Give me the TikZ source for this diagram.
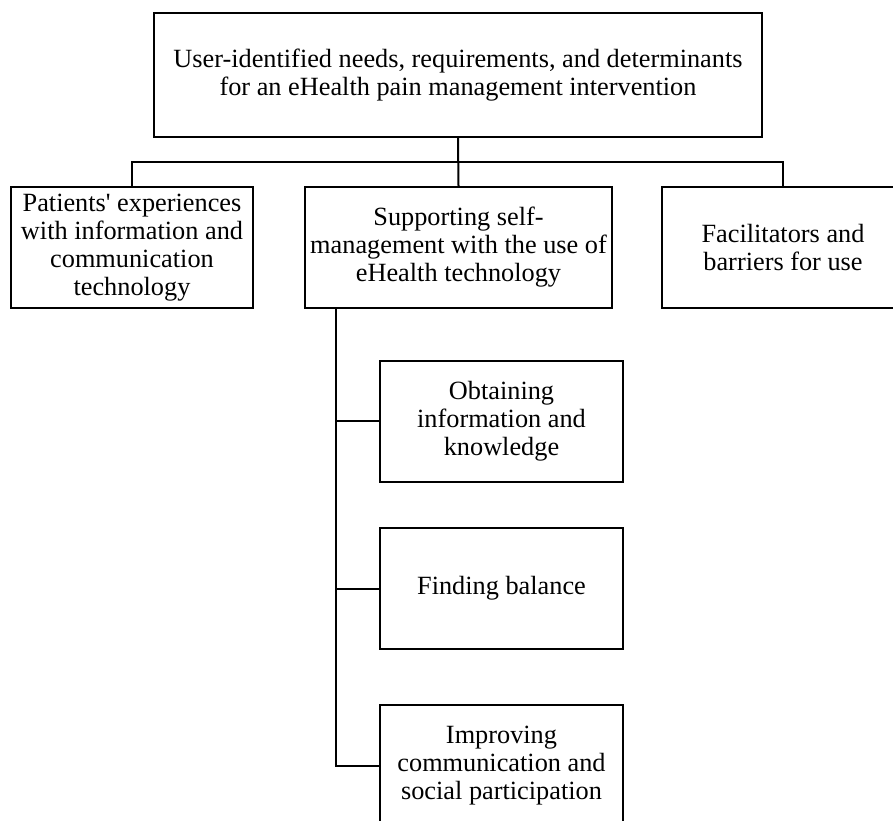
\documentclass[tikz,border=0pt]{standalone}
\usepackage{fontspec}
\setmainfont{Liberation Serif}

\begin{document}
\begin{tikzpicture}[x=1pt,y=-1pt,
  box/.style={draw, line width=2pt, align=center, inner sep=0pt,
    font=\fontsize{26.3}{28}\selectfont},
  side/.style={box, minimum width=242pt, minimum height=121pt},
  sub/.style={box, minimum width=243pt, minimum height=121pt},
  link/.style={line width=2pt}]
  \useasboundingbox (0,0) rectangle (893,820);
  % top level
  \node[box, minimum width=608pt, minimum height=124pt] (top) at (458,75)
    {User-identified needs, requirements, and determinants\\for an eHealth pain management intervention};
  % second row
  \node[side] (pat) at (132,247.5) {Patients\textquotesingle\ experiences\\with information and\\communication\\technology};
  \node[box, minimum width=307pt, minimum height=121pt] (sup) at (458.5,247.5)
    {Supporting self-\\management with the use of\\eHealth technology};
  \node[side] (fac) at (783,247.5) {Facilitators and\\barriers for use};
  % themes under self-management
  \node[sub] (obt) at (501.5,421) {Obtaining\\information and\\knowledge};
  \node[sub] (fin) at (501.5,588.5) {Finding balance};
  \node[sub] (imp) at (501.5,765.5) {Improving\\communication and\\social participation};
  \coordinate (bus) at (458,162);
  \coordinate (trunk) at (336,308);
  \draw[link] (top.south) -- (sup.north);
  \draw[link] (pat.north) |- (bus) -| (fac.north);
  \draw[link] (sup.south -| trunk) |- (imp.west);
  \draw[link] (trunk |- obt.west) -- (obt.west);
  \draw[link] (trunk |- fin.west) -- (fin.west);
\end{tikzpicture}
\end{document}
